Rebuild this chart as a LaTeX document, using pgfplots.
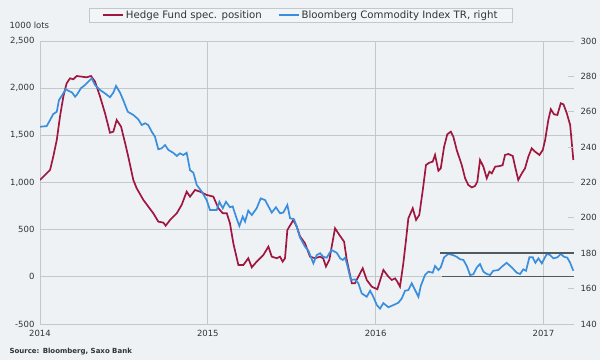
\documentclass[border=0pt]{standalone}
\usepackage{fontspec}
\setmainfont{DejaVu Sans}
\usepackage{pgfplots}
\pgfplotsset{compat=1.18}
\definecolor{bg}{HTML}{EEF2F5}
\definecolor{legbg}{HTML}{F2F5F7}
\definecolor{gridc}{HTML}{C3C8CB}
\definecolor{hfred}{HTML}{A0163F}
\definecolor{bcblue}{HTML}{3A8EDE}
\definecolor{bandc}{HTML}{4F5B60}
\definecolor{txt}{HTML}{2E3538}
\begin{document}
\begin{tikzpicture}
\fill[bg] (0pt,0pt) rectangle (600pt,360pt);
\pgfplotsset{
  base/.style={
    at={(40pt,36pt)}, anchor=south west,
    scale only axis, width=534pt, height=283pt,
    xmin=2014, xmax=2017.182,
    axis line style={draw=none},
    tick label style={font=\fontsize{8.5}{10}\selectfont, text=txt},
    /pgf/number format/assume math mode=true,
  }
}
\begin{axis}[base,
  ymin=-500, ymax=2500,
  ytick={-500,0,500,1000,1500,2000,2500},
  yticklabel style={xshift=-2pt, /pgf/number format/.cd, 1000 sep={,}},
  xtick={2014,2015,2016,2017},
  xticklabels={2014,2015,2016,2017},
  xmajorgrids, ymajorgrids,
  grid style={gridc, line width=0.8pt},
  major tick length=0pt,
  xticklabel style={yshift=-3pt},
]
\addplot[hfred, line width=1.7pt] coordinates {
(2014.000,1027)(2014.030,1080)(2014.060,1133)(2014.079,1274)(2014.100,1451)(2014.119,1698)(2014.139,1910)(2014.159,2052)(2014.179,2105)(2014.198,2094)(2014.219,2129)(2014.249,2122)(2014.278,2115)(2014.304,2129)(2014.328,2069)(2014.358,1910)(2014.387,1737)(2014.417,1528)(2014.437,1539)(2014.457,1663)(2014.483,1592)(2014.507,1419)(2014.526,1274)(2014.556,1027)(2014.576,939)(2014.616,815)(2014.675,674)(2014.705,585)(2014.735,575)(2014.749,542)(2014.775,603)(2014.815,674)(2014.844,762)(2014.874,903)(2014.894,850)(2014.924,921)(2014.954,903)(2014.993,868)(2015.033,850)(2015.063,727)(2015.089,674)(2015.113,674)(2015.132,567)(2015.152,356)(2015.182,126)(2015.212,126)(2015.241,197)(2015.262,101)(2015.291,161)(2015.331,232)(2015.361,320)(2015.381,214)(2015.411,197)(2015.430,214)(2015.446,161)(2015.460,197)(2015.474,497)(2015.510,603)(2015.530,532)(2015.549,430)(2015.579,356)(2015.609,214)(2015.639,197)(2015.669,214)(2015.688,195)(2015.704,108)(2015.724,179)(2015.758,515)(2015.784,444)(2015.812,373)(2015.828,179)(2015.858,-68)(2015.877,-68)(2015.897,2)(2015.923,91)(2015.947,-33)(2015.977,-104)(2016.010,-132)(2016.046,73)(2016.076,2)(2016.096,-33)(2016.116,-16)(2016.129,-51)(2016.145,-104)(2016.165,144)(2016.181,391)(2016.195,621)(2016.221,727)(2016.241,603)(2016.260,656)(2016.281,921)(2016.300,1186)(2016.320,1210)(2016.340,1221)(2016.354,1292)(2016.374,1125)(2016.388,1150)(2016.408,1380)(2016.427,1511)(2016.448,1539)(2016.463,1486)(2016.483,1345)(2016.513,1186)(2016.533,1045)(2016.552,974)(2016.573,948)(2016.592,963)(2016.606,1009)(2016.622,1239)(2016.642,1168)(2016.662,1045)(2016.678,1115)(2016.692,1097)(2016.712,1168)(2016.741,1175)(2016.757,1185)(2016.771,1292)(2016.791,1302)(2016.817,1281)(2016.831,1168)(2016.850,1027)(2016.871,1097)(2016.890,1150)(2016.910,1274)(2016.930,1363)(2016.950,1327)(2016.976,1292)(2016.996,1345)(2017.010,1451)(2017.029,1663)(2017.044,1776)(2017.063,1723)(2017.083,1716)(2017.103,1840)(2017.119,1829)(2017.139,1734)(2017.159,1610)(2017.178,1239)
};
\end{axis}
\begin{axis}[base,
  ymin=140, ymax=300,
  ytick={140,160,180,200,220,240,260,280,300},
  axis y line*=right,
  axis x line=none,
  yticklabel style={xshift=3pt},
  ytick style={gridc, line width=0.8pt},
  tick align=inside, major tick length=6pt,
  legend columns=2,
  legend style={at={(0.0918,1.1166)}, anchor=north west,
    draw=gridc, fill=legbg,
    font=\fontsize{10.2}{12}\selectfont, text=txt,
    inner xsep=13pt, inner ysep=0.5pt,
    /tikz/every even column/.append style={column sep=14pt}},
  legend image code/.code={\draw[#1] (0pt,0pt) -- (20pt,0pt);},
]
\addlegendimage{draw=hfred, line width=1.7pt}
\addlegendentry{Hedge Fund spec. position}
\addplot[draw=bcblue, line width=1.7pt] coordinates {
(2014.000,251.5)(2014.040,251.9)(2014.060,255.3)(2014.079,258.7)(2014.100,260)(2014.113,266.6)(2014.133,269.5)(2014.153,272.7)(2014.169,271.9)(2014.192,270.8)(2014.209,268.5)(2014.219,269.5)(2014.244,273.3)(2014.268,275.1)(2014.288,277)(2014.308,278.9)(2014.328,275.1)(2014.358,272.3)(2014.387,270.4)(2014.417,268.2)(2014.437,270.8)(2014.453,274.6)(2014.477,270.8)(2014.496,266.6)(2014.523,260)(2014.556,258.2)(2014.586,255.7)(2014.606,252.5)(2014.626,253.5)(2014.645,252.5)(2014.666,248.7)(2014.685,245.9)(2014.705,238.8)(2014.725,239.3)(2014.745,241.2)(2014.765,238.4)(2014.794,236.8)(2014.815,235)(2014.834,236.5)(2014.854,235.5)(2014.874,236.8)(2014.894,227)(2014.914,225.5)(2014.934,218.6)(2014.964,214.8)(2014.993,210.1)(2015.013,204.4)(2015.053,204.4)(2015.069,209.1)(2015.089,205.4)(2015.108,209.1)(2015.132,206)(2015.148,206.5)(2015.168,200.7)(2015.188,195.4)(2015.208,200.7)(2015.222,197.9)(2015.241,204.1)(2015.262,201.6)(2015.291,205.4)(2015.315,211)(2015.341,210.1)(2015.381,203)(2015.406,206)(2015.430,202.6)(2015.450,203)(2015.474,207.3)(2015.490,199.8)(2015.514,199.2)(2015.533,194.1)(2015.549,189)(2015.579,183.7)(2015.599,181.5)(2015.629,174.3)(2015.649,179)(2015.669,180)(2015.688,178)(2015.709,177.5)(2015.724,180)(2015.738,181.8)(2015.768,180.3)(2015.788,177.2)(2015.804,176.2)(2015.818,177.5)(2015.831,173.3)(2015.852,164.9)(2015.877,165.2)(2015.897,163)(2015.917,157.3)(2015.947,155.4)(2015.967,158.8)(2015.986,155.4)(2016.007,150.7)(2016.026,148.7)(2016.046,151.8)(2016.076,149.5)(2016.106,150.7)(2016.135,152)(2016.156,154.5)(2016.175,158.8)(2016.195,159.2)(2016.215,163)(2016.235,159.2)(2016.255,155.4)(2016.269,161.5)(2016.294,167.7)(2016.314,169.6)(2016.340,169)(2016.354,172.8)(2016.374,170.5)(2016.388,172)(2016.408,177.7)(2016.433,179.6)(2016.460,179)(2016.483,178)(2016.503,176.6)(2016.523,176.2)(2016.543,172.8)(2016.563,167.7)(2016.582,168.1)(2016.603,172)(2016.622,173.9)(2016.642,169.6)(2016.662,168.3)(2016.682,167.7)(2016.701,170.1)(2016.731,170.5)(2016.752,172.4)(2016.781,174.6)(2016.811,172)(2016.841,169)(2016.861,168.3)(2016.880,170.9)(2016.896,170.1)(2016.916,177.7)(2016.936,177.7)(2016.952,174.6)(2016.970,177.1)(2016.990,174.3)(2017.020,179.6)(2017.039,179)(2017.059,177.1)(2017.083,177.7)(2017.103,179.6)(2017.123,178)(2017.142,177.5)(2017.159,174.6)(2017.178,170.1)
};
\addlegendentry{Bloomberg Commodity Index TR, right}
\addplot[bandc, line width=1.6pt, forget plot] coordinates {(2016.384,180.2)(2017.182,180.2)};
\addplot[bandc, line width=1.6pt, forget plot] coordinates {(2016.396,166.8)(2017.182,166.8)};
\end{axis}
\node[anchor=west, font=\fontsize{8.5}{10}\selectfont, text=txt] at (6pt,335pt) {1000 lots};
\node[anchor=west, font=\bfseries\fontsize{7}{9}\selectfont, text=txt] at (6pt,8pt) {Source: Bloomberg, Saxo Bank};
\pgfresetboundingbox
\useasboundingbox (0pt,0pt) rectangle (600pt,360pt);
\end{tikzpicture}
\end{document}
